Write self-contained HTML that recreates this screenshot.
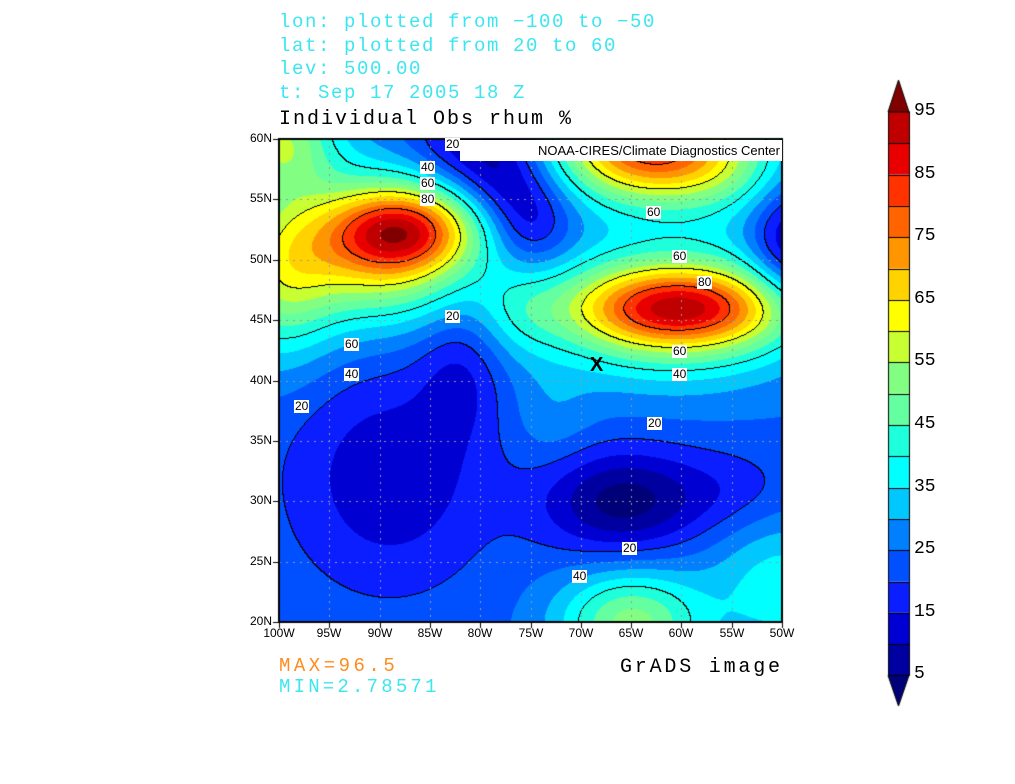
<!DOCTYPE html>
<html><head><meta charset="utf-8"><style>
body{margin:0;background:#fff;width:1015px;height:784px;overflow:hidden;position:relative;font-family:"Liberation Mono",monospace}
.t{position:absolute;white-space:pre;}
.c{color:#3ce6f0;font-size:19px;letter-spacing:1.6px}
.lab{position:absolute;background:#fff;font-family:"Liberation Sans",sans-serif;font-size:12px;line-height:13px;padding:0 1px;color:#000}
.ax{position:absolute;font-family:"Liberation Sans",sans-serif;font-size:12px;color:#000}
</style></head><body>
<div class="t c" style="left:279px;top:11px">lon: plotted from −100 to −50</div>
<div class="t c" style="left:279px;top:35px">lat: plotted from 20 to 60</div>
<div class="t c" style="left:279px;top:58px">lev: 500.00</div>
<div class="t c" style="left:279px;top:82px">t: Sep 17 2005 18 Z</div>
<div class="t" style="left:279px;top:108px;font-size:20px;letter-spacing:2px;color:#000">Individual Obs rhum %</div>
<canvas id="cv" width="1015" height="784" style="position:absolute;left:0;top:0"></canvas>
<div class="t" style="left:460px;top:140px;width:320px;height:21px;background:#fff;font-family:'Liberation Sans',sans-serif;font-size:13px;line-height:21px;text-align:right;padding-right:2px">NOAA-CIRES/Climate Diagnostics Center</div>
<div class="lab" style="left:445px;top:138px">20</div>
<div class="lab" style="left:420px;top:161px">40</div>
<div class="lab" style="left:420px;top:177px">60</div>
<div class="lab" style="left:420px;top:193px">80</div>
<div class="lab" style="left:646px;top:206px">60</div>
<div class="lab" style="left:672px;top:250px">60</div>
<div class="lab" style="left:697px;top:276px">80</div>
<div class="lab" style="left:445px;top:310px">20</div>
<div class="lab" style="left:344px;top:338px">60</div>
<div class="lab" style="left:672px;top:345px">60</div>
<div class="lab" style="left:344px;top:368px">40</div>
<div class="lab" style="left:672px;top:368px">40</div>
<div class="lab" style="left:294px;top:400px">20</div>
<div class="lab" style="left:647px;top:417px">20</div>
<div class="lab" style="left:622px;top:542px">20</div>
<div class="lab" style="left:572px;top:570px">40</div>
<div class="t" style="left:590px;top:354px;font-size:20px;font-weight:bold;font-family:'Liberation Sans',sans-serif">X</div>
<div class="t" style="left:279px;top:655px;font-size:19px;color:#ff8c1e;letter-spacing:3.5px">MAX=96.5</div>
<div class="t" style="left:279px;top:676px;font-size:19px;color:#3ce6f0;letter-spacing:3.2px">MIN=2.78571</div>
<div class="t" style="left:620px;top:656px;font-size:20px;letter-spacing:2.8px">GrADS image</div>
<div id="ax"></div>
<script>
var cv=document.getElementById('cv'),g=cv.getContext('2d');
var cols=['#000078','#0000a0','#0000d2','#0a1eff','#0050ff','#0080ff','#00c8ff','#00ffff','#1effdc','#64ffa0','#82ff82','#c8ff32','#ffff00','#ffd200','#ff9600','#ff6400','#ff3200','#e80000','#c00000','#800000'];
function G(x,y,cx,cy,a,sx,sy){var dx=(x-cx)/sx,dy=(y-cy)/sy;return a*Math.exp(-0.5*(dx*dx+dy*dy));}
function f(lo,la){
 var v=24;
 v+=G(lo,la,-87.5,52.5,36,5,2.4);
 v+=G(lo,la,-90,51,40,6.5,4.2);
 v+=G(lo,la,-100,49,26,4,5);
 v+=G(lo,la,-100,60,28,4,3);
 v+=G(lo,la,-60,46,40,7.5,2.3);
 v+=G(lo,la,-61,46,30,9,4);
 v+=G(lo,la,-64,59.5,56,6,3.2);
 v+=G(lo,la,-56,58,18,5,3);
 v+=G(lo,la,-66,30,-21,5.5,3);
 v+=G(lo,la,-55,31,-6,5,2.5);
 v+=G(lo,la,-89,32,-13,7,6.5);
 v+=G(lo,la,-82,41,-9,3,4);
 v+=G(lo,la,-65,20,28,5,3);
 v+=G(lo,la,-50,23,14,5,4);
 v+=G(lo,la,-73,37,5,3,3);
 v+=G(lo,la,-76,46,8,3,3);
 v+=G(lo,la,-81,59.5,-14,4,2.5);
 v+=G(lo,la,-75,53,-14,3,3);
 v+=G(lo,la,-78,56.5,-10,3,2.5);
 v+=G(lo,la,-49,51,-20,3,3.5);
 return v;}
var X0=279,X1=782,Y0=139,Y1=622,W=X1-X0,H=Y1-Y0;
var img=g.createImageData(W,H),q=[];
function hx(c){return [parseInt(c.substr(1,2),16),parseInt(c.substr(3,2),16),parseInt(c.substr(5,2),16)];}
var rc=cols.map(hx);
for(var j=0;j<H;j++){q[j]=[];for(var i=0;i<W;i++){var lo=-100+i*50/W,la=60-j*40/H;var v=f(lo,la);q[j][i]=v;
 var k=Math.max(0,Math.min(19,Math.floor(v/5)));var c=rc[k],p=(j*W+i)*4;img.data[p]=c[0];img.data[p+1]=c[1];img.data[p+2]=c[2];img.data[p+3]=255;}}
var L=[20,40,60,80];
for(var j=0;j<H-1;j++)for(var i=0;i<W-1;i++){var a=q[j][i],b=q[j][i+1],d=q[j+1][i];
 for(var t=0;t<4;t++){var l=L[t];if((a-l)*(b-l)<=0&&a!=b||(a-l)*(d-l)<=0&&a!=d){var p=(j*W+i)*4;img.data[p]=0;img.data[p+1]=0;img.data[p+2]=0;}}}
g.putImageData(img,X0,Y0);
g.strokeStyle='#999';g.lineWidth=1;g.setLineDash([2,5]);
for(var k=1;k<10;k++){var x=Math.round(X0+k*W/10)+0.5;g.beginPath();g.moveTo(x,Y0);g.lineTo(x,Y1);g.stroke();}
for(var k=1;k<8;k++){var y=Math.round(Y0+k*H/8)+0.5;g.beginPath();g.moveTo(X0,y);g.lineTo(X1,y);g.stroke();}
g.setLineDash([]);
g.strokeStyle='#000';g.lineWidth=2;g.strokeRect(X0,Y0,W,H);
g.lineWidth=1;
var ax='';
for(var k=0;k<=10;k++){var x=Math.round(X0+k*W/10);g.beginPath();g.moveTo(x+0.5,Y1);g.lineTo(x+0.5,Y1+6);g.stroke();
 ax+='<div class="ax" style="left:'+(x-20)+'px;width:40px;text-align:center;top:626px">'+(100-5*k)+'W</div>';}
for(var k=0;k<=8;k++){var y=Math.round(Y1-k*H/8);g.beginPath();g.moveTo(X0-6,y+0.5);g.lineTo(X0,y+0.5);g.stroke();
 ax+='<div class="ax" style="left:238px;width:34px;text-align:right;top:'+(y-8)+'px">'+(20+5*k)+'N</div>';}
var bx=888,bw=21;function yv(v){return 112+(95-v)*6.26;}
g.fillStyle=cols[19];g.beginPath();g.moveTo(bx,yv(95));g.lineTo(bx+bw/2,80);g.lineTo(bx+bw,yv(95));g.fill();g.stroke();
g.fillStyle=cols[0];g.beginPath();g.moveTo(bx,yv(5));g.lineTo(bx+bw/2,706);g.lineTo(bx+bw,yv(5));g.fill();g.stroke();
for(var k=1;k<19;k++){var ya=yv(5*k+5),yb=yv(5*k);g.fillStyle=cols[k];g.fillRect(bx,ya,bw,yb-ya);g.beginPath();g.moveTo(bx,Math.round(yb)+0.5);g.lineTo(bx+bw,Math.round(yb)+0.5);g.stroke();}
g.strokeRect(bx+0.5,yv(95),bw,yv(5)-yv(95));
for(var v=95;v>=5;v-=10)ax+='<div class="t" style="left:914px;top:'+(yv(v)-11)+'px;font-size:18px;font-family:\'Liberation Mono\',monospace">'+v+'</div>';
document.getElementById('ax').innerHTML=ax;
</script>
</body></html>
